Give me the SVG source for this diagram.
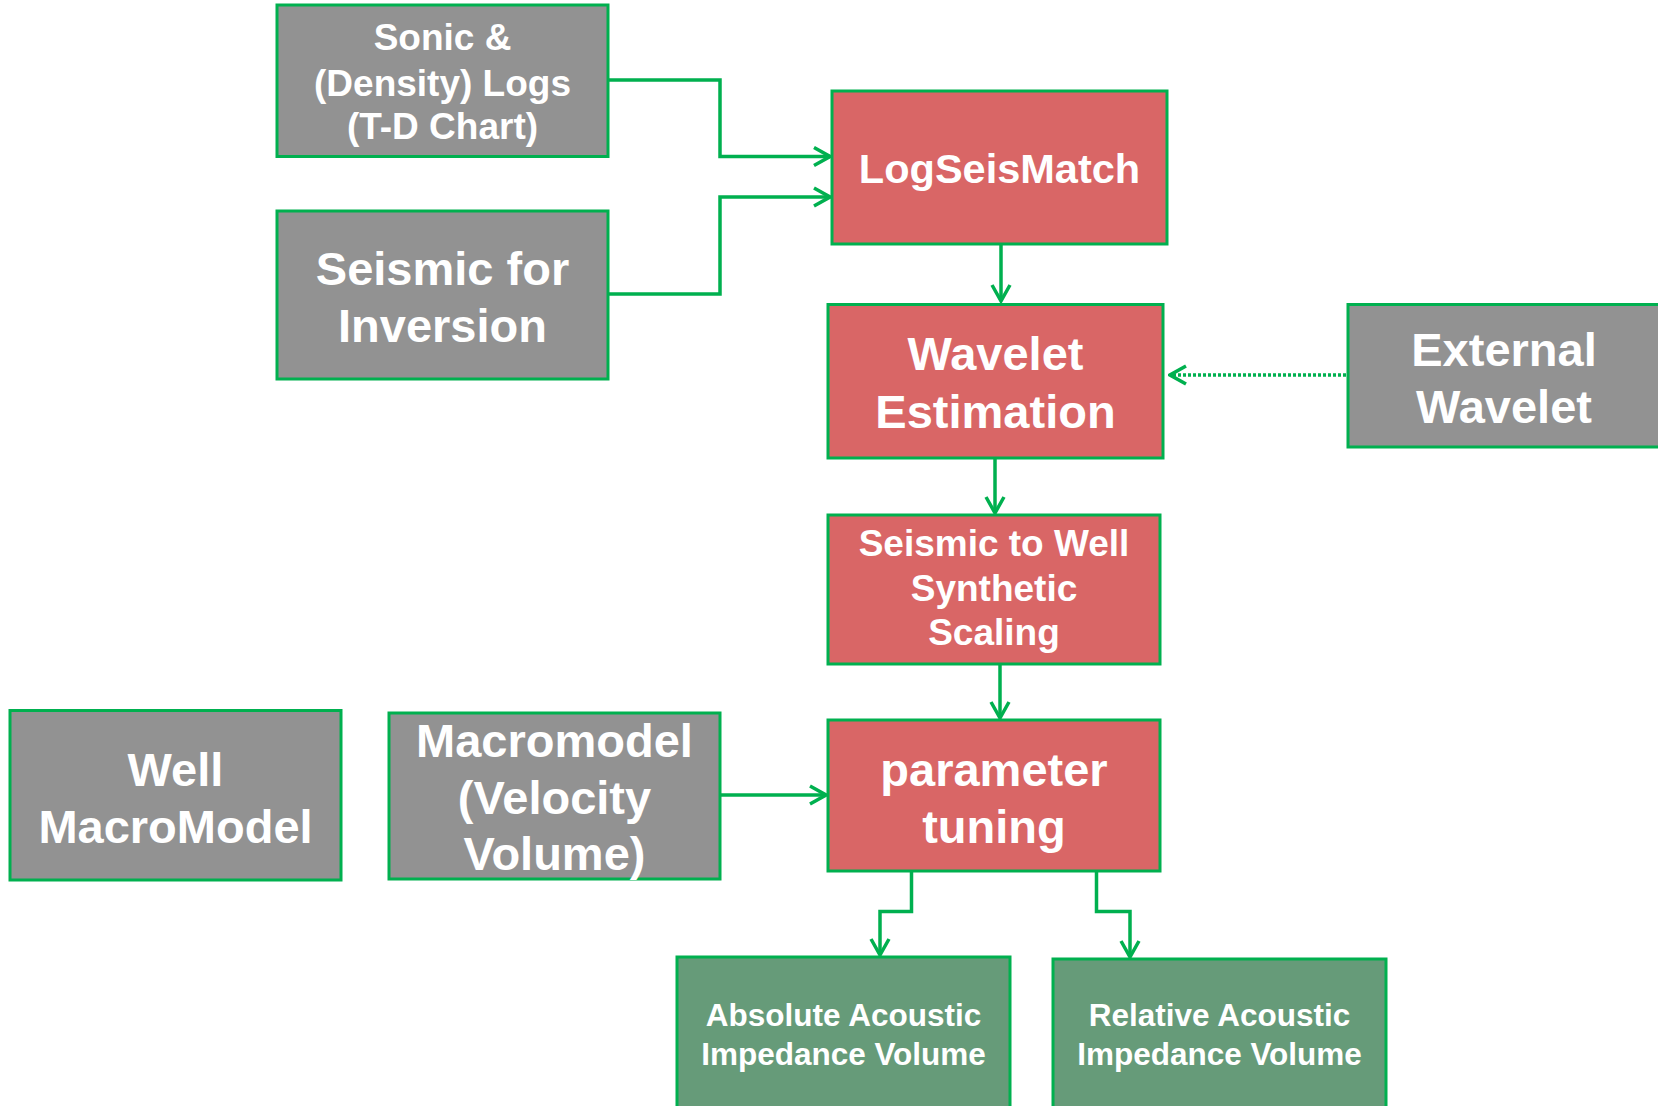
<svg xmlns="http://www.w3.org/2000/svg" width="1658" height="1106" viewBox="0 0 1658 1106">
<style>
.box{stroke:#00B04F;stroke-width:3}
.gray{fill:#929292}
.red{fill:#D96666}
.green{fill:#669B79}
text{font-family:"Liberation Sans",Arial,sans-serif;font-weight:bold;fill:#FFFFFF;text-anchor:middle}
.conn{fill:none;stroke:#00B04F;stroke-width:3.5}
.dot{stroke-dasharray:3 2}
</style>
<defs>
<marker id="arr" markerUnits="userSpaceOnUse" viewBox="0 0 20 22" refX="18" refY="11" markerWidth="20" markerHeight="22" orient="auto">
<path d="M2,2 L18,11 L2,20" fill="none" stroke="#00B04F" stroke-width="3.5"/>
</marker>
</defs>
<rect width="1658" height="1106" fill="#FFFFFF"/>
<g id="connectors">
<path class="conn" d="M608,80 H720 V156.5 H830" marker-end="url(#arr)"/>
<path class="conn" d="M608,294 H720 V197 H830" marker-end="url(#arr)"/>
<path class="conn" d="M1001,244 V301" marker-end="url(#arr)"/>
<path class="conn dot" d="M1346,375 H1170" marker-end="url(#arr)"/>
<path class="conn" d="M995,458 V513" marker-end="url(#arr)"/>
<path class="conn" d="M1000,664 V718" marker-end="url(#arr)"/>
<path class="conn" d="M720,795 H826" marker-end="url(#arr)"/>
<path class="conn" d="M911.5,871 V911.5 H880 V955" marker-end="url(#arr)"/>
<path class="conn" d="M1096.5,871 V911.5 H1130 V957" marker-end="url(#arr)"/>
</g>
<g id="sonic">
<rect class="box gray" x="277" y="5" width="331" height="151.5"/>
<text font-size="37"><tspan x="442.5" y="50">Sonic &amp;</tspan><tspan x="442.5" y="95.5">(Density) Logs</tspan><tspan x="442.5" y="139">(T-D Chart)</tspan></text>
</g>
<g id="seismic-inversion">
<rect class="box gray" x="277" y="211" width="331" height="168"/>
<text font-size="47"><tspan x="442.5" y="284.5">Seismic for</tspan><tspan x="442.5" y="341.5">Inversion</tspan></text>
</g>
<g id="logseismatch">
<rect class="box red" x="832" y="91" width="335" height="153"/>
<text font-size="41.5" x="999.5" y="183">LogSeisMatch</text>
</g>
<g id="wavelet-estimation">
<rect class="box red" x="828" y="304.5" width="335" height="153.5"/>
<text font-size="47"><tspan x="995.5" y="370">Wavelet</tspan><tspan x="995.5" y="428">Estimation</tspan></text>
</g>
<g id="external-wavelet">
<rect class="box gray" x="1348" y="304.5" width="312" height="142.5"/>
<text font-size="47"><tspan x="1504" y="366">External</tspan><tspan x="1504" y="423">Wavelet</tspan></text>
</g>
<g id="seismic-to-well">
<rect class="box red" x="828" y="515" width="332" height="149"/>
<text font-size="37"><tspan x="994" y="556">Seismic to Well</tspan><tspan x="994" y="601">Synthetic</tspan><tspan x="994" y="645">Scaling</tspan></text>
</g>
<g id="parameter-tuning">
<rect class="box red" x="828" y="720" width="332" height="151"/>
<text font-size="47"><tspan x="994" y="786">parameter</tspan><tspan x="994" y="843">tuning</tspan></text>
</g>
<g id="well-macromodel">
<rect class="box gray" x="10" y="710.5" width="331" height="169.5"/>
<text font-size="47"><tspan x="175.5" y="786">Well</tspan><tspan x="175.5" y="843">MacroModel</tspan></text>
</g>
<g id="macromodel">
<rect class="box gray" x="389" y="713" width="331" height="166"/>
<text font-size="47"><tspan x="554.5" y="757">Macromodel</tspan><tspan x="554.5" y="814">(Velocity</tspan><tspan x="554.5" y="870">Volume)</tspan></text>
</g>
<g id="absolute-ai">
<rect class="box green" x="677" y="957" width="333" height="160"/>
<text font-size="31.5"><tspan x="843.5" y="1026">Absolute Acoustic</tspan><tspan x="843.5" y="1065">Impedance Volume</tspan></text>
</g>
<g id="relative-ai">
<rect class="box green" x="1053" y="959" width="333" height="160"/>
<text font-size="31.5"><tspan x="1219.5" y="1026">Relative Acoustic</tspan><tspan x="1219.5" y="1065">Impedance Volume</tspan></text>
</g>
</svg>
